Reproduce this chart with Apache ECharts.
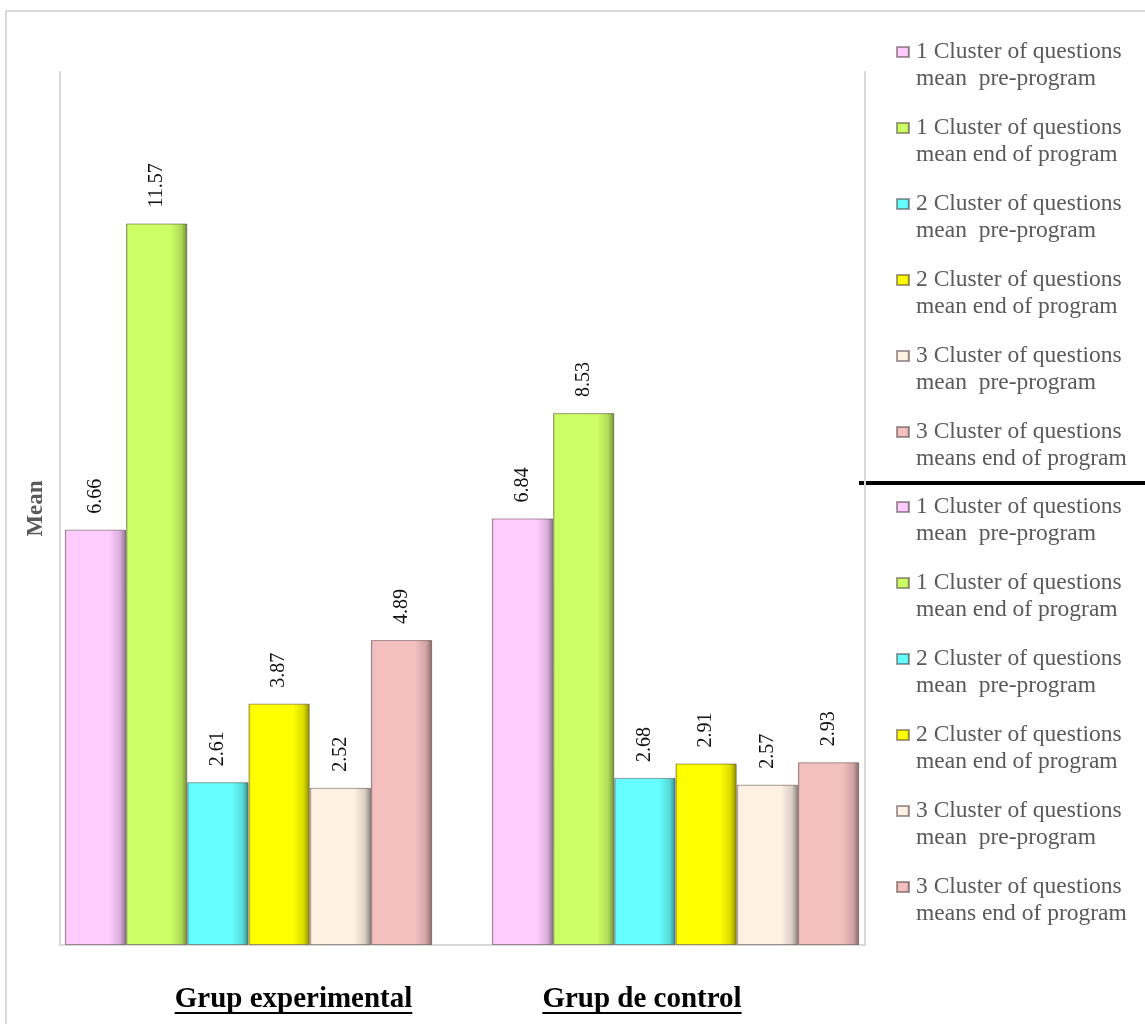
<!DOCTYPE html>
<html>
<head>
<meta charset="utf-8">
<script src="https://cdn.jsdelivr.net/npm/echarts@6/dist/echarts.min.js"></script>
<style>
html,body{margin:0;padding:0;background:#fff;}
#chart{width:1145px;height:1024px;}
</style>
</head>
<body>
<div id="chart"></div>
<script>
// ---- data ----
const categories = ['Grup experimental', 'Grup de control'];
const seriesNames = [
  '1 Cluster of questions\nmean  pre-program',
  '1 Cluster of questions\nmean end of program',
  '2 Cluster of questions\nmean  pre-program',
  '2 Cluster of questions\nmean end of program',
  '3 Cluster of questions\nmean  pre-program',
  '3 Cluster of questions\nmeans end of program'
];
const cluster1Pre = [6.66, 6.84];
const cluster1End = [11.57, 8.53];
const cluster2Pre = [2.61, 2.68];
const cluster2End = [3.87, 2.91];
const cluster3Pre = [2.52, 2.57];
const cluster3End = [4.89, 2.93];
const yAxisName = 'Mean';

// ---- styles ----
const baseColors = ['#FFCCFF', '#CCFF66', '#66FFFF', '#FFFF00', '#FFF1E3', '#F4BFBF'];
const FONT = "'Liberation Serif', 'Times New Roman', serif";

function shade(hex, f) {
  const n = parseInt(hex.slice(1), 16);
  const r = Math.round(((n >> 16) & 255) * f);
  const g = Math.round(((n >> 8) & 255) * f);
  const b = Math.round((n & 255) * f);
  return 'rgb(' + r + ',' + g + ',' + b + ')';
}
function bevel(hex) {
  return new echarts.graphic.LinearGradient(0, 0, 1, 0, [
    { offset: 0, color: shade(hex, 0.8) },
    { offset: 0.04, color: hex },
    { offset: 0.72, color: hex },
    { offset: 0.9, color: shade(hex, 0.86) },
    { offset: 1, color: shade(hex, 0.55) }
  ]);
}

const allValues = [cluster1Pre, cluster1End, cluster2Pre, cluster2End, cluster3Pre, cluster3End];

const underline = new echarts.graphic.LinearGradient(0, 0, 0, 1, [
  { offset: 0, color: 'rgba(0,0,0,0)' },
  { offset: 0.9, color: 'rgba(0,0,0,0)' },
  { offset: 0.9, color: '#000' },
  { offset: 0.97, color: '#000' },
  { offset: 0.97, color: 'rgba(0,0,0,0)' },
  { offset: 1, color: 'rgba(0,0,0,0)' }
]);

const series = allValues.map((vals, i) => ({
  name: seriesNames[i],
  type: 'bar',
  xAxisIndex: 0,
  yAxisIndex: 0,
  data: vals,
  barGap: '0%',
  barCategoryGap: '14%',
  itemStyle: {
    color: bevel(baseColors[i]),
    borderColor: 'rgba(60,40,40,0.45)',
    borderWidth: 1
  },
  label: {
    show: true,
    position: 'top',
    rotate: 90,
    align: 'left',
    verticalAlign: 'middle',
    distance: 16,
    fontFamily: FONT,
    fontSize: 20,
    color: '#111',
    formatter: p => p.value.toFixed(2)
  }
}));

const legendCommon = {
  orient: 'vertical',
  left: 896,
  padding: 0,
  itemGap: -5,
  itemWidth: 12,
  itemHeight: 10,
  icon: 'rect',
  data: seriesNames,
  formatter: name => '\n' + name,
  textStyle: {
    fontFamily: FONT,
    fontSize: 23.5,
    color: '#595959',
    lineHeight: 27,
    padding: [0, 0, 0, 2]
  }
};

const option = {
  animation: false,
  backgroundColor: '#fff',
  legend: [
    Object.assign({}, legendCommon, { top: 11.5 }),
    Object.assign({}, legendCommon, { top: 466.5 })
  ],
  grid: [
    { left: 35, top: 72, width: 854, height: 873, containLabel: false },
    { left: 60, top: 72, width: 805, height: 873, containLabel: false }
  ],
  xAxis: [
    {
      type: 'category',
      gridIndex: 0,
      data: categories,
      axisLine: { show: false },
      axisTick: { show: false },
      axisLabel: {
        margin: 41,
        formatter: (v, idx) => idx === 0 ? '{sp| }{t|' + v + '}' : '{t|' + v + '}{sp2| }',
        rich: {
          t: {
            fontFamily: FONT, fontSize: 29, fontWeight: 'bold', color: '#000',
            lineHeight: 28, backgroundColor: underline
          },
          sp: { width: 90, lineHeight: 28, fontSize: 29 },
          sp2: { width: 67, lineHeight: 28, fontSize: 29 }
        }
      }
    },
    {
      type: 'value',
      gridIndex: 1,
      min: 0, max: 1,
      axisLine: { show: true, lineStyle: { color: '#d9d9d9', width: 2 } },
      axisTick: { show: false },
      axisLabel: { show: false },
      splitLine: { show: false }
    }
  ],
  yAxis: [
    {
      type: 'value',
      gridIndex: 0,
      min: 0, max: 14,
      show: false
    },
    {
      type: 'value',
      gridIndex: 1,
      position: 'left',
      min: 0, max: 1,
      name: yAxisName,
      nameLocation: 'middle',
      nameRotate: 90,
      nameGap: 12,
      nameTextStyle: { fontFamily: FONT, fontSize: 23, fontWeight: 'bold', color: '#595959' },
      axisLine: { show: true, lineStyle: { color: '#d9d9d9', width: 2 } },
      axisTick: { show: false },
      axisLabel: { show: false },
      splitLine: { show: false }
    },
    {
      type: 'value',
      gridIndex: 1,
      position: 'right',
      min: 0, max: 1,
      axisLine: { show: true, lineStyle: { color: '#d9d9d9', width: 2 } },
      axisTick: { show: false },
      axisLabel: { show: false },
      splitLine: { show: false }
    }
  ],
  graphic: [
    {
      type: 'rect',
      shape: { x: 6, y: 11, width: 1200, height: 1100 },
      style: { fill: 'none', stroke: '#d9d9d9', lineWidth: 2 },
      silent: true,
      z: -1
    },
    {
      type: 'line',
      shape: { x1: 859, y1: 483, x2: 1145, y2: 483 },
      style: { stroke: '#000', lineWidth: 4 },
      silent: true
    }
  ],
  series: series
};

const chart = echarts.init(document.getElementById('chart'), null, { renderer: 'canvas' });
chart.setOption(option);
</script>
</body>
</html>
